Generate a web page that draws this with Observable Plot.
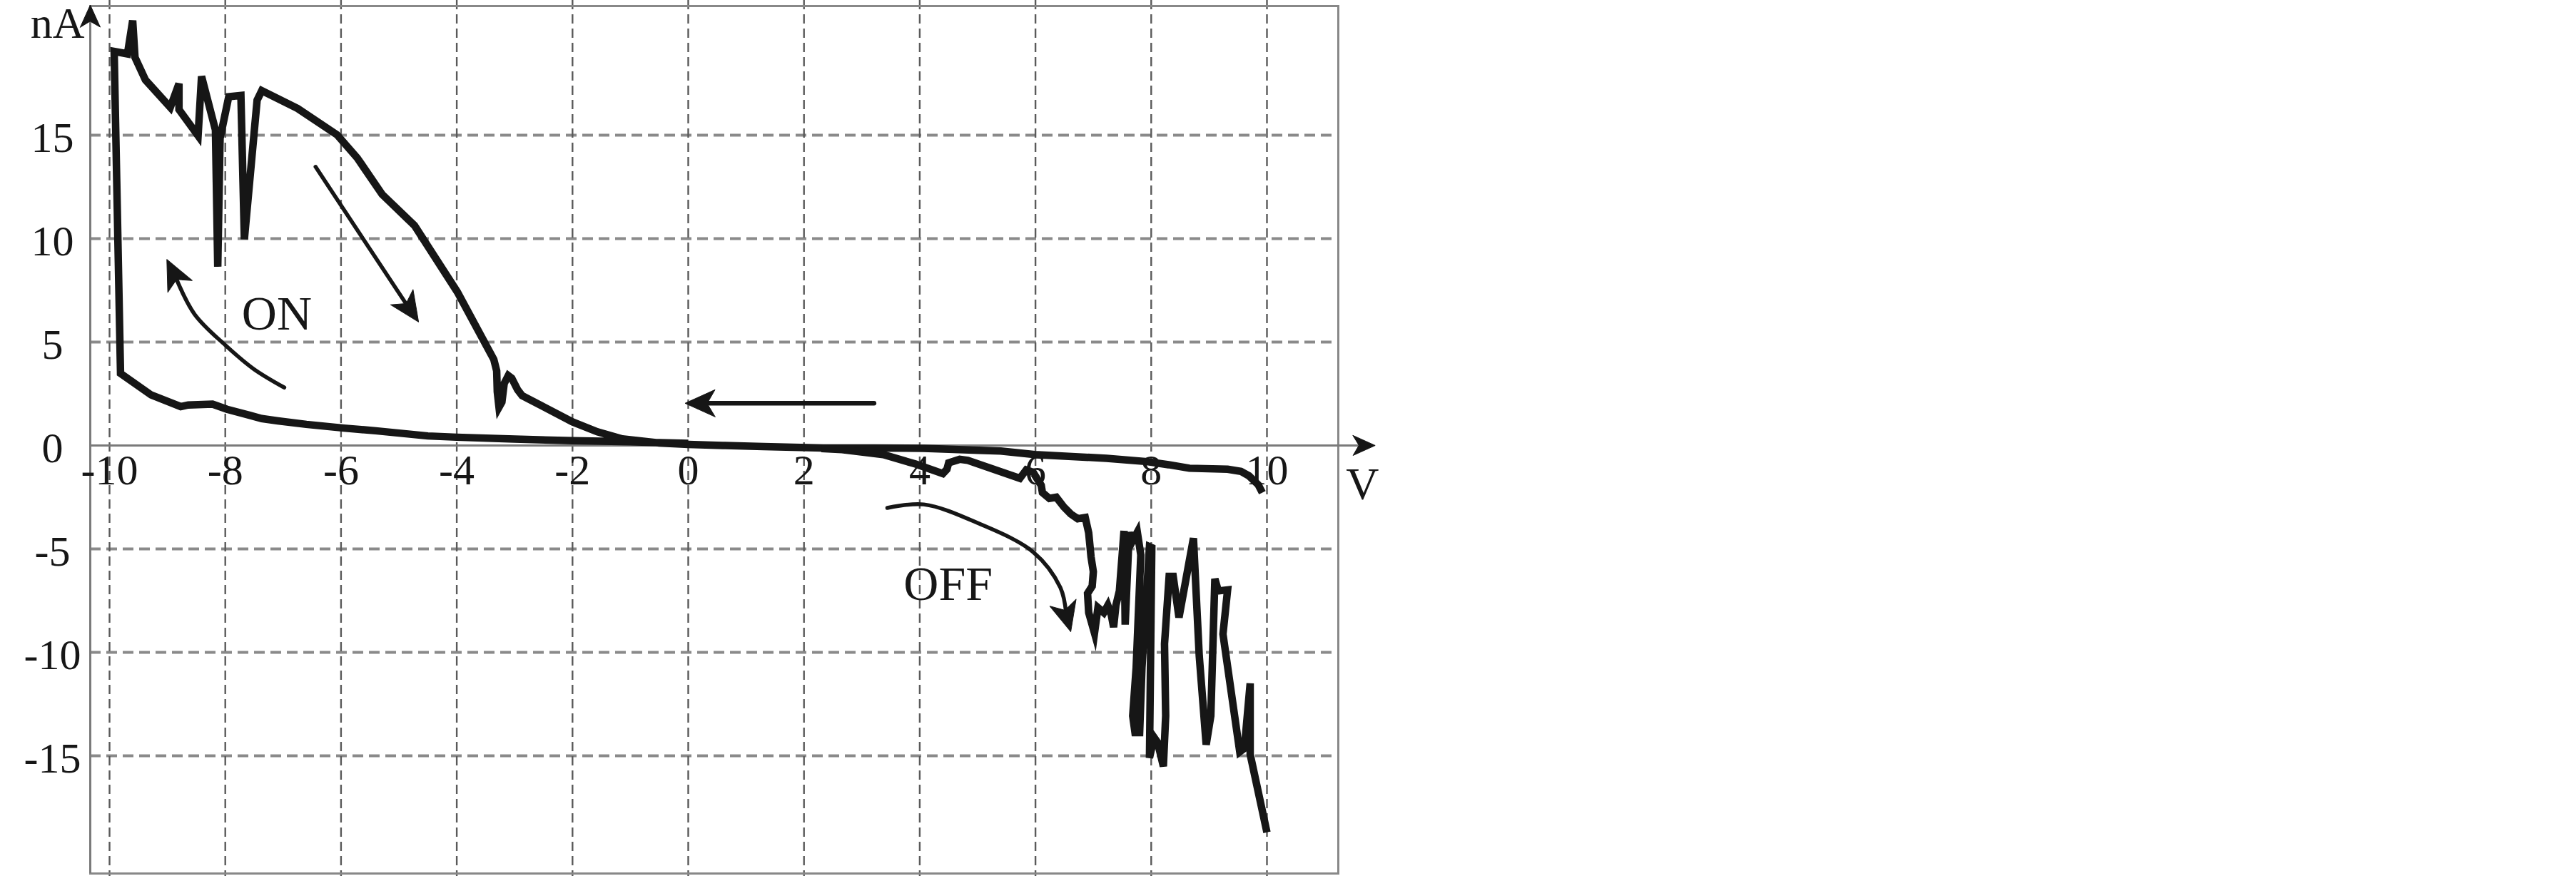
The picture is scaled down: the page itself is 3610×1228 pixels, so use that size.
<!DOCTYPE html>
<html>
<head>
<meta charset="utf-8">
<script src="https://cdn.jsdelivr.net/npm/d3@7"></script>
<script src="https://cdn.jsdelivr.net/npm/@observablehq/plot@0.6"></script>
<style>
  html, body { margin: 0; padding: 0; background: #ffffff; }
  #chart svg { display: block; }
</style>
</head>
<body>
<div id="chart"></div>
<script>
// ---------- tick values and labels ----------
const xTicks = [-10, -8, -6, -4, -2, 0, 2, 4, 6, 8, 10];
const xTickLabels = ["-10", "-8", "-6", "-4", "-2", "0", "2", "4", "6", "8", "10"];
const yTicks = [-15, -10, -5, 0, 5, 10, 15];
const yTickLabels = ["-15", "-10", "-5", "0", "5", "10", "15"];
const yGrid = [-15, -10, -5, 5, 10, 15];

// ---------- ON loop (lower branch 0 -> -10, jump up, upper branch back, then positive branch to +10) ----------
const onLoopV = [
  0.0, -0.5, -1.0, -2.0, -3.0, -4.0, -4.5, -5.4, -5.95, -6.6, -7.09, -7.37, -7.58, -7.97, -8.22, -8.64, -8.77, -9.28, -9.81,
  -9.92, -9.69, -9.60, -9.56, -9.38, -8.95, -8.80, -8.80, -8.47, -8.41, -8.17, -8.13, -8.09, -7.94, -7.73, -7.67, -7.45, -7.37,
  -6.75, -6.07, -5.72, -5.29, -4.73, -3.99, -3.36, -3.31, -3.30, -3.27, -3.22, -3.18, -3.11, -3.05, -2.95, -2.87, -2.0, -1.57,
  -1.14, -0.5, 0.0,
  0.6, 1.3, 2.33, 3.2, 4.07, 5.02, 5.4, 5.99, 7.23, 7.93, 8.3, 8.66, 9.32, 9.55, 9.69, 9.85, 9.92
];
const onLoopI = [
  0.10, 0.14, 0.18, 0.23, 0.31, 0.40, 0.46, 0.71, 0.84, 1.02, 1.19, 1.30, 1.46, 1.75, 2.00, 1.96, 1.88, 2.44, 3.48,
  19.05, 18.93, 20.54, 18.76, 17.67, 16.34, 17.49, 16.24, 14.97, 17.84, 15.25, 8.64, 14.85, 16.86, 16.92, 9.97, 16.69, 17.15,
  16.29, 15.02, 13.9, 12.14, 10.63, 7.42, 4.16, 3.6, 2.6, 1.85, 2.1, 3.0, 3.38, 3.25, 2.7, 2.41, 1.14, 0.66,
  0.32, 0.12, 0.05,
  0.0, -0.05, -0.12, -0.12, -0.14, -0.23, -0.27, -0.44, -0.62, -0.78, -0.93, -1.1, -1.15, -1.25, -1.47, -1.9, -2.28
];

// ---------- OFF branch (positive side, noisy) ----------
const offV = [
  2.3, 2.66, 3.37, 3.93, 4.40, 4.47, 4.50, 4.69, 4.83, 5.73, 5.84, 5.96, 6.10, 6.12, 6.24, 6.36, 6.49, 6.61, 6.73, 6.86,
  6.92, 6.96, 7.0, 6.98, 6.9, 6.92, 7.02, 7.08, 7.18, 7.25, 7.31, 7.35, 7.39, 7.45, 7.53, 7.55, 7.62, 7.66, 7.76, 7.82,
  7.74, 7.68, 7.72, 7.80, 7.84, 7.97, 8.01, 7.97, 8.05, 8.11, 8.15, 8.21, 8.25, 8.23, 8.31, 8.38, 8.48, 8.73, 8.83, 8.95,
  9.03, 9.10, 9.16, 9.32, 9.24, 9.53, 9.61, 9.71, 9.71, 10.0
];
const offI = [
  -0.15, -0.2, -0.44, -0.9, -1.36, -1.15, -0.84, -0.67, -0.72, -1.59, -1.18, -1.3, -1.93, -2.28, -2.56, -2.5, -2.97, -3.31, -3.54, -3.48,
  -4.23, -5.38, -6.1, -6.8, -7.15, -8.08, -9.07, -7.84, -8.08, -7.73, -8.19, -8.78, -7.73, -7.03, -4.13, -8.66, -4.19, -4.71, -4.19, -5.29,
  -10.75, -13.07, -13.88, -13.88, -10.75, -4.89, -4.94, -15.1, -14.11, -14.35, -14.81, -15.51, -13.07, -9.59, -6.33, -6.33, -8.31, -4.48, -10.17, -14.46,
  -13.07, -6.45, -7.03, -6.98, -9.12, -14.81, -14.64, -11.5, -14.93, -18.7
];

// ---------- annotation arrows (data units) ----------
const onArrowV = [-6.98, -7.51, -8.00, -8.53, -8.86];
const onArrowI = [2.80, 3.70, 4.85, 6.34, 8.15];
const diagArrowV = [-6.44, -4.85];
const diagArrowI = [13.47, 6.74];
const leftArrowV = [3.21, 0.31];
const leftArrowI = [2.04, 2.04];
const offArrowV = [3.44, 4.07, 5.02, 5.96, 6.43, 6.53];
const offArrowI = [-3.02, -2.85, -3.77, -5.15, -6.87, -8.13];
const headV = [-9.01, -4.66, -0.055, 6.61];
const headI = [8.99, 5.97, 2.04, -9.0];
const headAngle = [-26, 146, -90, 165];

// ---------- text annotations ----------
const noteText = ["ON", "OFF"];
const noteV = [-7.11, 4.49];
const noteI = [6.34, -6.70];

// ---------- helpers ----------
const pts = (vs, is) => vs.map((v, k) => ({v, i: is[k]}));
const ink = "#161616";
const serif = "'Liberation Serif', 'Times New Roman', Times, serif";
const barbHead = {
  draw(ctx, l, r) {
    ctx.moveTo(-r, 0);
    ctx.lineTo(0, -l);
    ctx.lineTo(r, 0);
    ctx.lineTo(0, -0.26 * l);
    ctx.closePath();
  }
};
const heads = headV.map((v, k) => ({v, i: headI[k], a: headAngle[k]}));

const X0 = -10.333, X1 = 11.233;

const chart = Plot.plot({
  width: 1960,
  height: 1228,
  marginLeft: 126,
  marginRight: 85,
  marginTop: 8,
  marginBottom: 4,
  x: {domain: [X0, X1], axis: null},
  y: {domain: [-20.69, 21.24], axis: null},
  style: {fontFamily: serif, background: "#ffffff", color: ink, overflow: "visible"},
  marks: [
    // grid
    Plot.ruleY(yGrid, {stroke: "#8a8a8a", strokeWidth: 4, strokeDasharray: "15,8"}),
    Plot.ruleX(xTicks, {y1: 21.52, y2: -20.83, stroke: "#5a5a5a", strokeWidth: 2.4, strokeDasharray: "13,7"}),
    // frame and axes
    Plot.frame({stroke: "#888888", strokeWidth: 3}),
    Plot.ruleY([0], {x1: X0, x2: 11.6, stroke: "#7a7a7a", strokeWidth: 3}),
    Plot.ruleX([X0], {y1: -20.69, y2: 20.5, stroke: "#7a7a7a", strokeWidth: 3}),
    Plot.vector([{v: 11.87, i: 0, a: 90}, {v: X0, i: 21.29, a: 0}], {
      x: "v", y: "i", rotate: "a", length: 31, r: 14, anchor: "end",
      shape: barbHead, fill: ink, stroke: ink, strokeWidth: 1
    }),
    // tick labels
    Plot.text(yTicks, {x: X0, y: d => d, text: (d, k) => yTickLabels[k], dx: -53, dy: 4,
      textAnchor: "middle", fontSize: 60, fill: ink}),
    Plot.text(xTicks, {x: d => d, y: 0, text: (d, k) => xTickLabels[k], dy: 12, lineAnchor: "top",
      textAnchor: "middle", fontSize: 60, fill: ink}),
    // axis titles
    Plot.text(["nA"], {x: -10.43, y: 20.4, text: d => d, textAnchor: "end", fontSize: 62, fill: ink}),
    Plot.text(["V"], {x: 11.65, y: -1.91, text: d => d, textAnchor: "middle", fontSize: 64, fill: ink}),
    // data curves
    Plot.line(pts(onLoopV, onLoopI), {x: "v", y: "i", stroke: ink, strokeWidth: 10.5,
      strokeLinejoin: "miter", strokeMiterlimit: 5, strokeLinecap: "butt"}),
    Plot.line(pts(offV, offI), {x: "v", y: "i", stroke: ink, strokeWidth: 10.5,
      strokeLinejoin: "miter", strokeMiterlimit: 5, strokeLinecap: "butt"}),
    // annotation arrows
    Plot.line(pts(onArrowV, onArrowI), {x: "v", y: "i", stroke: ink, strokeWidth: 5.5, curve: "catmull-rom"}),
    Plot.line(pts(diagArrowV, diagArrowI), {x: "v", y: "i", stroke: ink, strokeWidth: 5.5}),
    Plot.line(pts(leftArrowV, leftArrowI), {x: "v", y: "i", stroke: ink, strokeWidth: 6.5}),
    Plot.line(pts(offArrowV, offArrowI), {x: "v", y: "i", stroke: ink, strokeWidth: 5.5, curve: "catmull-rom"}),
    Plot.vector(heads, {x: "v", y: "i", rotate: "a", length: 42, r: 19, anchor: "end",
      shape: barbHead, fill: ink, stroke: ink, strokeWidth: 1}),
    // ON / OFF labels
    Plot.text(noteText, {x: (d, k) => noteV[k], y: (d, k) => noteI[k], text: d => d,
      textAnchor: "middle", fontSize: 68, fill: ink})
  ]
});
document.getElementById("chart").appendChild(chart);
</script>
</body>
</html>
